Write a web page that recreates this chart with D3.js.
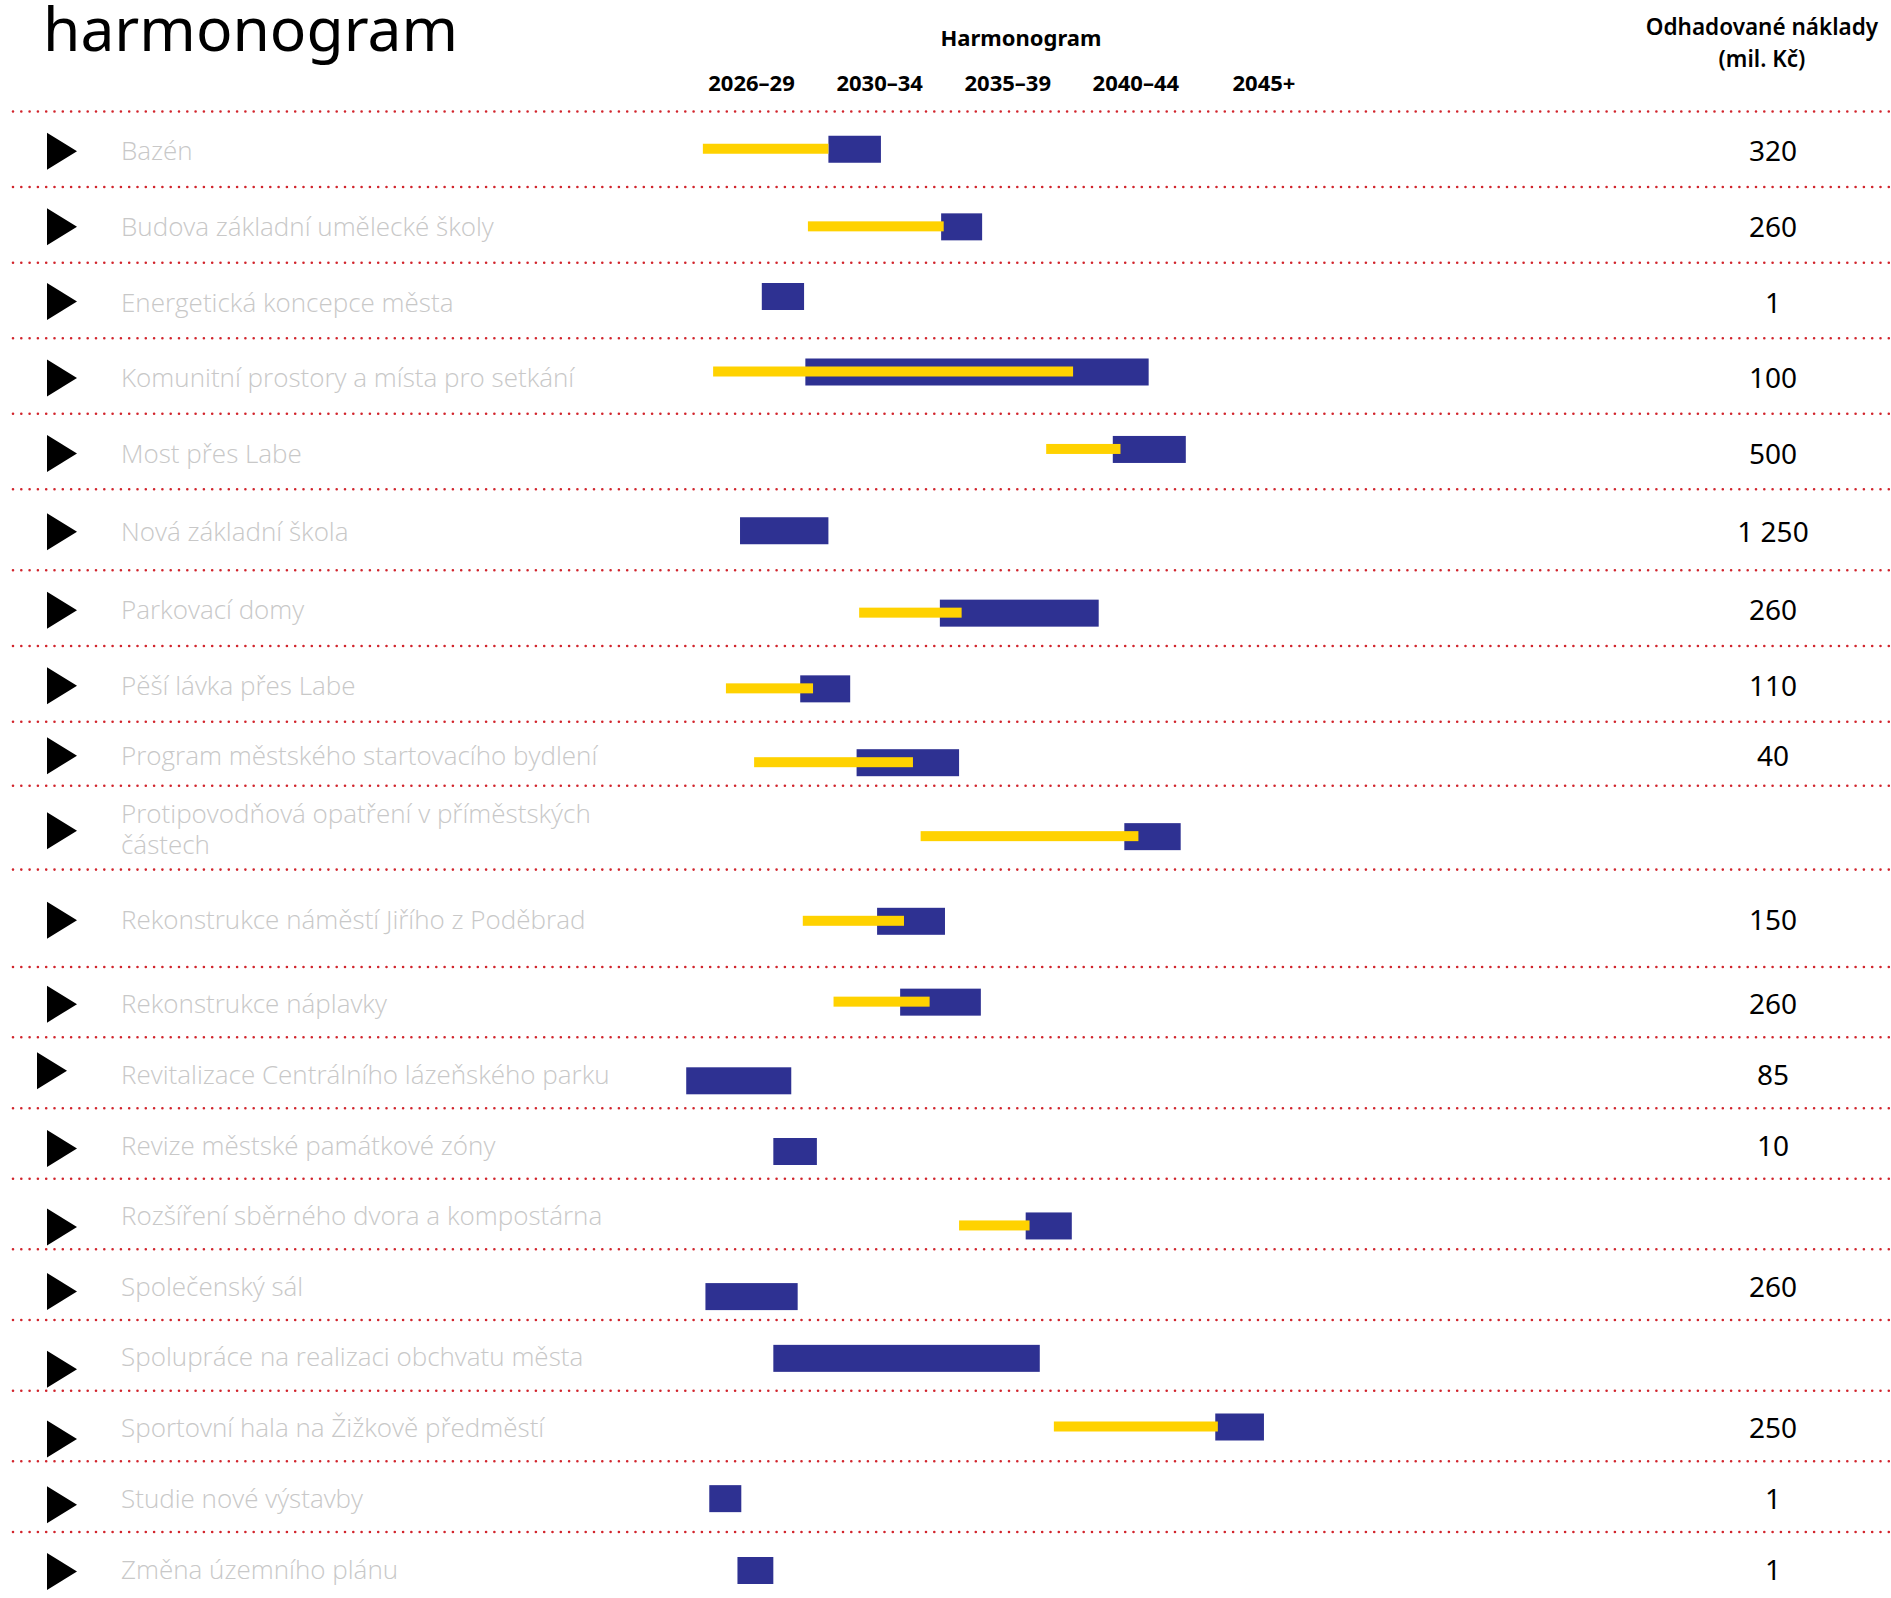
<!DOCTYPE html>
<html>
<head>
<meta charset="utf-8">
<script src="https://cdn.jsdelivr.net/npm/d3@7"></script>
<style>
  html, body { margin: 0; padding: 0; background: #fff; }
  svg { display: block; }
</style>
</head>
<body>
<svg id="chart" width="1891" height="1598"></svg>
<script>
// ---------------- DATA ----------------
const projects = [
  "Bazén",
  "Budova základní umělecké školy",
  "Energetická koncepce města",
  "Komunitní prostory a místa pro setkání",
  "Most přes Labe",
  "Nová základní škola",
  "Parkovací domy",
  "Pěší lávka přes Labe",
  "Program městského startovacího bydlení",
  "Protipovodňová opatření v příměstských|částech",
  "Rekonstrukce náměstí Jiřího z Poděbrad",
  "Rekonstrukce náplavky",
  "Revitalizace Centrálního lázeňského parku",
  "Revize městské památkové zóny",
  "Rozšíření sběrného dvora a kompostárna",
  "Společenský sál",
  "Spolupráce na realizaci obchvatu města",
  "Sportovní hala na Žižkově předměstí",
  "Studie nové výstavby",
  "Změna územního plánu"
];
// preparation phase (yellow) – start / end year, null = none
const prepStart = [2025.6, 2029.7, null, 2026.0, 2039.0, null, 2031.7, 2026.5, 2027.6, 2034.1, 2029.5, 2030.7, null, null, 2035.6, null, null, 2039.3, null, null];
const prepEnd   = [2030.5, 2035.0, null, 2040.05, 2041.9, null, 2035.7, 2029.9, 2033.8, 2042.6, 2033.45, 2034.45, null, null, 2038.35, null, null, 2045.7, null, null];
// realisation phase (blue) – start / end year
const realStart = [2030.5, 2034.9, 2027.9, 2029.6, 2041.6, 2027.05, 2034.85, 2029.4, 2031.6, 2042.05, 2032.4, 2033.3, 2024.95, 2028.35, 2038.2, 2025.7, 2028.35, 2045.6, 2025.85, 2026.95];
const realEnd   = [2032.55, 2036.5, 2029.55, 2043.0, 2044.45, 2030.5, 2041.05, 2031.35, 2035.6, 2044.25, 2035.05, 2036.45, 2029.05, 2030.05, 2040.0, 2029.3, 2038.75, 2047.5, 2027.1, 2028.35];
// estimated cost (mil. Kč), "" = not given
const costs = ["320", "260", "1", "100", "500", "1 250", "260", "110", "40", "", "150", "260", "85", "10", "", "260", "", "250", "1", "1"];
// period tick labels
const periodLabels = ["2026–29", "2030–34", "2035–39", "2040–44", "2045+"];
const periodMid = [2027.5, 2032.5, 2037.5, 2042.5, 2047.5];

// ---------------- LAYOUT (table geometry, not data) ----------------
const W = 1891, H = 1598;
const tableTop = 111.5;
const rowHeights = [75.5, 75.7, 75.6, 75.4, 75.5, 81.1, 75.7, 75.7, 64, 83.9, 97.4, 70.3, 71, 70.4, 70.5, 70.8, 70.7, 70.6, 70.7, 71];
// small vertical cell-alignment nudges of the original table layout
const barNudge = [-2, 0, -6, -6, -4, -1, 3, 3, 7, 7, 1, -2, 6, 6, 10, 10, 1, -1, 0, 1];
const triNudge = [0, 0, -1, 0, 0, 0, 0, 0, 0, 1, 0, 0, -4, 3, 11, 5, 12, 11, 6, 2];
const rowTops = [];
rowHeights.reduce((acc, h) => { rowTops.push(acc); return acc + h; }, tableTop);
const rowCenter = i => rowTops[i] + rowHeights[i] / 2 + 2;

const blue = "#2e3192", yellow = "#ffd200", red = "#d1242c";
const svg = d3.select("#chart");

const x = d3.scaleLinear().domain([2025, 2050]).range([687.5, 1328]);

// title
svg.append("text")
  .attr("x", 43).attr("y", 51)
  .attr("font-family", "'Noto Sans', sans-serif")
  .attr("font-size", 60.5).attr("fill", "#000")
  .text("harmonogram");

// header "Harmonogram"
svg.append("text")
  .attr("x", 1021).attr("y", 46).attr("text-anchor", "middle")
  .attr("font-family", "'Noto Sans', sans-serif").attr("font-weight", 700)
  .attr("font-size", 22).attr("fill", "#000")
  .text("Harmonogram");

// period labels
svg.append("g").selectAll("text").data(periodLabels).join("text")
  .attr("x", (d, i) => x(periodMid[i])).attr("y", 91).attr("text-anchor", "middle")
  .attr("font-family", "'Noto Sans', sans-serif").attr("font-weight", 700)
  .attr("font-size", 22).attr("fill", "#000")
  .text(d => d);

// cost header
const costX = 1773;
svg.append("text")
  .attr("x", 1762).attr("y", 35).attr("text-anchor", "middle")
  .attr("font-family", "'Noto Sans', sans-serif").attr("font-weight", 600)
  .attr("font-size", 22.5).attr("fill", "#000")
  .text("Odhadované náklady");
svg.append("text")
  .attr("x", 1762).attr("y", 67).attr("text-anchor", "middle")
  .attr("font-family", "'Noto Sans', sans-serif").attr("font-weight", 600)
  .attr("font-size", 22.5).attr("fill", "#000")
  .text("(mil. Kč)");

// dotted separators
const lineYs = rowTops.concat([rowTops[rowTops.length - 1] + rowHeights[rowHeights.length - 1]]);
svg.append("g").selectAll("line").data(lineYs).join("line")
  .attr("x1", 13).attr("x2", W).attr("y1", d => d).attr("y2", d => d)
  .attr("stroke", red).attr("stroke-width", 2.6)
  .attr("stroke-linecap", "round").attr("stroke-dasharray", "0 8.3");

const rows = svg.append("g").selectAll("g").data(projects).join("g");

// triangles
rows.append("path")
  .attr("d", (d, i) => {
    const c = rowCenter(i) + triNudge[i];
    const x0 = i === 12 ? 37 : 47;
    return `M${x0},${c - 18.5}L${x0 + 30},${c}L${x0},${c + 18.5}Z`;
  })
  .attr("fill", "#000");

// labels
rows.each(function(d, i) {
  const lines = d.split("|");
  const lh = 31;
  const c = rowCenter(i);
  const t = d3.select(this).append("text")
    .attr("font-family", "'Open Sans', sans-serif")
    .attr("font-weight", 300)
    .attr("font-size", 26).attr("fill", "#c8c8c8");
  lines.forEach((ln, k) => {
    t.append("tspan")
      .attr("x", 121)
      .attr("y", c + (k - (lines.length - 1) / 2) * lh)
      .attr("dy", "0.35em")
      .text(ln);
  });
});

// blue realisation bars
const barH = 27, prepH = 10;
rows.append("rect")
  .attr("x", (d, i) => x(realStart[i]))
  .attr("width", (d, i) => x(realEnd[i]) - x(realStart[i]))
  .attr("y", (d, i) => rowCenter(i) + barNudge[i] - barH / 2)
  .attr("height", barH)
  .attr("fill", blue);

// yellow preparation bars
rows.each(function(d, i) {
  if (prepStart[i] === null) return;
  d3.select(this).append("rect")
    .attr("x", x(prepStart[i]))
    .attr("width", x(prepEnd[i]) - x(prepStart[i]))
    .attr("y", rowCenter(i) + barNudge[i] - prepH / 2 - 0.5)
    .attr("height", prepH)
    .attr("fill", yellow);
});

// costs
rows.append("text")
  .attr("x", costX).attr("y", (d, i) => rowCenter(i)).attr("dy", "0.36em")
  .attr("text-anchor", "middle")
  .attr("font-family", "'Noto Sans', sans-serif")
  .attr("font-size", 28).attr("fill", "#000")
  .text((d, i) => costs[i]);
</script>
</body>
</html>
